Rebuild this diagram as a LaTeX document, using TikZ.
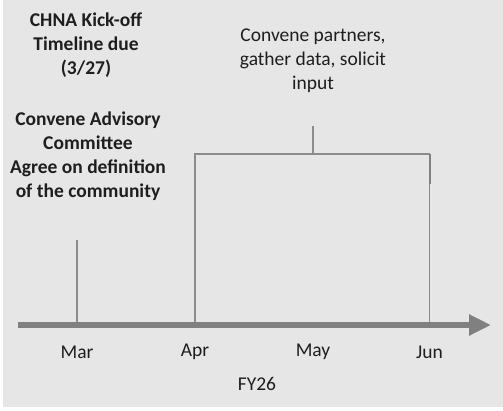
\documentclass[tikz,border=0pt]{standalone}
\usepackage{fontspec}
\setmainfont{Carlito}
\usetikzlibrary{arrows.meta}
\definecolor{bg}{HTML}{E6E6E6}
\definecolor{axisgray}{HTML}{808080}
\definecolor{tickgray}{HTML}{8C8C8C}
\definecolor{txt}{HTML}{1E1E1E}
\begin{document}
\begin{tikzpicture}[x=1pt,y=-1pt,
  tick/.style={draw=tickgray,line width=1.2pt},
  month/.style={font=\fontsize{19.5}{22}\selectfont,text=txt,inner sep=0pt},
  note/.style={font=\fontsize{19.5}{24}\selectfont,text=txt,align=center,inner sep=0pt},
  boldnote/.style={note,font=\bfseries\fontsize{19.5}{24}\selectfont},
  timeline/.style={draw=axisgray,line width=6pt,-{Triangle[length=22pt,width=20pt]}}]
  % canvas
  \useasboundingbox (0,0) rectangle (503,410);
  \fill[white] (0,0) rectangle (503,410);
  \fill[bg] (3,0) rectangle (503,407);

  % axis anchors
  \coordinate (axstart) at (18,325);
  \coordinate (axend) at (491,325);
  \coordinate (mar) at (77,323);
  \coordinate (apr) at (195,323);
  \coordinate (may) at (313,323);
  \coordinate (jun) at (429.5,323);
  \coordinate (martop) at (77,240);
  \coordinate (aprtop) at (195,154);
  \coordinate (juntop) at (429.5,154);
  \coordinate (stemtop) at (313,126);
  \coordinate (stembot) at (313,154);

  % milestone ticks and bracket
  \draw[tick] (mar) -- (martop);
  \draw[tick,line join=miter] (apr) -- (aprtop) -- (juntop) -- (jun);
  \draw[draw=axisgray,line width=2pt] (juntop) -- ++(0,30);
  \draw[tick] (stembot) -- (stemtop);

  % time axis
  \draw[timeline] (axstart) -- (axend);

  % month labels
  \node[month] (lmar) at (77,352) {Mar};
  \node[month] (lapr) at (195,352) {Apr};
  \node[month] (lmay) at (313,352) {May};
  \node[month] (ljun) at (429.5,352) {Jun};
  \node[month] (lfy) at (257,384) {FY26};

  % annotations
  \node[note] (phase) at (313,61) {Convene partners,\\gather data, solicit\\input};
  \node[boldnote] (kick) at (86,45) {CHNA Kick-off\\Timeline due\\(3/27)};
  \node[boldnote] (advis) at (88,156) {Convene Advisory\\Committee\\Agree on definition\\of the community};
\end{tikzpicture}
\end{document}
